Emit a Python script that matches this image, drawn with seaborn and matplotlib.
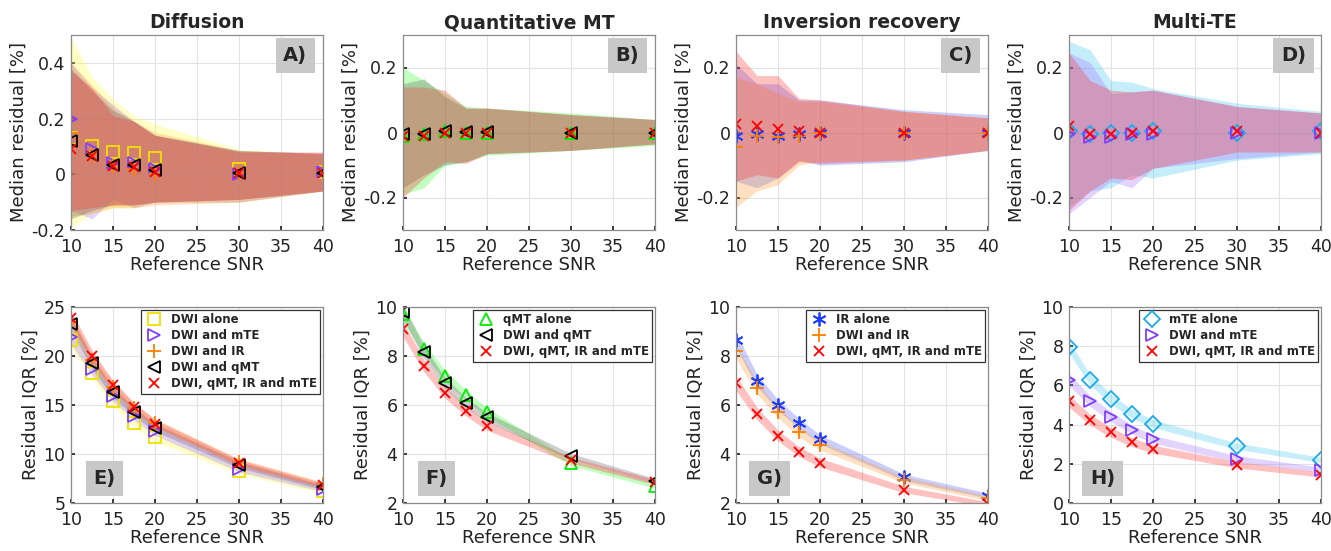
import numpy as np
import pandas as pd
import matplotlib
matplotlib.use("Agg")
import matplotlib.pyplot as plt
import seaborn as sns

# ---------------- data ----------------
SNR = [10, 12.5, 15, 17.5, 20, 30, 40]

# Panel A (Diffusion) median residual + band
A_DWI_MED = [0.13, 0.10, 0.08, 0.075, 0.06, 0.02, 0.01]
A_DWI_LO = [-0.19, -0.14, -0.12, -0.12, -0.10, -0.10, -0.06]
A_DWI_HI = [0.49, 0.35, 0.27, 0.21, 0.18, 0.09, 0.07]
A_MTE_MED = [0.20, 0.09, 0.04, 0.04, 0.02, 0.0, 0.01]
A_MTE_LO = [-0.13, -0.16, -0.09, -0.12, -0.10, -0.10, -0.06]
A_MTE_HI = [0.40, 0.31, 0.25, 0.19, 0.14, 0.085, 0.075]
A_IR_MED = [0.15, 0.07, 0.03, 0.02, 0.0, 0.005, 0.01]
A_IR_LO = [-0.15, -0.14, -0.12, -0.12, -0.11, -0.10, -0.06]
A_IR_HI = [0.40, 0.32, 0.24, 0.19, 0.15, 0.085, 0.075]
A_QMT_MED = [0.12, 0.07, 0.035, 0.035, 0.015, 0.005, 0.005]
A_QMT_LO = [-0.16, -0.13, -0.11, -0.11, -0.10, -0.09, -0.06]
A_QMT_HI = [0.38, 0.30, 0.23, 0.19, 0.14, 0.085, 0.075]
A_ALL_MED = [0.09, 0.065, 0.03, 0.025, 0.01, 0.005, 0.005]
A_ALL_LO = [-0.13, -0.12, -0.11, -0.11, -0.10, -0.09, -0.06]
A_ALL_HI = [0.37, 0.31, 0.21, 0.19, 0.14, 0.08, 0.08]

# Panel B (Quantitative MT)
B_QMT_MED = [-0.01, -0.005, 0.005, 0.0, 0.0, 0.0, 0.0]
B_QMT_LO = [-0.19, -0.17, -0.10, -0.09, -0.07, -0.055, -0.04]
B_QMT_HI = [0.20, 0.16, 0.12, 0.08, 0.075, 0.06, 0.04]
B_DQ_MED = [-0.005, -0.005, 0.005, 0.002, 0.002, 0.0, 0.0]
B_DQ_LO = [-0.17, -0.13, -0.10, -0.09, -0.065, -0.055, -0.035]
B_DQ_HI = [0.15, 0.165, 0.11, 0.075, 0.075, 0.055, 0.04]
B_ALL_MED = [-0.01, -0.01, 0.0, 0.0, 0.0, 0.0, 0.0]
B_ALL_LO = [-0.20, -0.14, -0.09, -0.095, -0.065, -0.055, -0.035]
B_ALL_HI = [0.14, 0.14, 0.13, 0.075, 0.075, 0.055, 0.04]

# Panel C (Inversion recovery)
C_IR_MED = [-0.01, -0.005, -0.01, -0.005, 0.0, -0.002, -0.002]
C_IR_LO = [-0.15, -0.17, -0.14, -0.085, -0.10, -0.09, -0.055]
C_IR_HI = [0.21, 0.15, 0.15, 0.10, 0.10, 0.07, 0.055]
C_DIR_MED = [-0.045, -0.01, -0.015, -0.01, 0.0, 0.0, 0.0]
C_DIR_LO = [-0.23, -0.18, -0.16, -0.10, -0.09, -0.085, -0.055]
C_DIR_HI = [0.17, 0.15, 0.12, 0.095, 0.095, 0.065, 0.045]
C_ALL_MED = [0.025, 0.02, 0.01, 0.005, 0.0, 0.0, 0.0]
C_ALL_LO = [-0.15, -0.13, -0.14, -0.09, -0.095, -0.085, -0.055]
C_ALL_HI = [0.25, 0.175, 0.175, 0.105, 0.10, 0.065, 0.045]

# Panel D (Multi-TE)
D_MTE_MED = [0.005, -0.005, 0.0, 0.0, 0.005, 0.0, 0.005]
D_MTE_LO = [-0.23, -0.18, -0.17, -0.13, -0.14, -0.085, -0.065]
D_MTE_HI = [0.28, 0.255, 0.16, 0.155, 0.135, 0.09, 0.065]
D_DM_MED = [-0.005, -0.015, -0.015, -0.005, -0.005, 0.0, 0.0]
D_DM_LO = [-0.25, -0.20, -0.15, -0.17, -0.11, -0.08, -0.06]
D_DM_HI = [0.245, 0.215, 0.12, 0.125, 0.13, 0.08, 0.06]
D_ALL_MED = [0.02, -0.005, -0.005, 0.0, 0.005, 0.005, 0.0]
D_ALL_LO = [-0.24, -0.18, -0.14, -0.145, -0.11, -0.06, -0.06]
D_ALL_HI = [0.245, 0.16, 0.13, 0.125, 0.13, 0.08, 0.06]

# Bottom row: residual IQR
E_DWI = [21.6, 18.3, 15.4, 13.2, 11.7, 8.3, 6.2]
E_MTE = [21.9, 18.7, 15.9, 13.9, 12.3, 8.5, 6.4]
E_IR = [23.5, 19.6, 16.8, 14.7, 13.2, 9.2, 6.9]
E_QMT = [23.3, 19.3, 16.3, 14.3, 12.7, 8.9, 6.6]
E_ALL = [23.9, 20.0, 17.0, 14.8, 13.1, 9.1, 6.8]
E_HW = [0.7, 0.6, 0.5, 0.45, 0.4, 0.32, 0.25]

F_QMT = [9.7, 8.3, 7.2, 6.4, 5.7, 3.65, 2.7]
F_DQ = [9.8, 8.15, 6.9, 6.1, 5.5, 3.9, 2.9]
F_ALL = [9.1, 7.6, 6.5, 5.75, 5.15, 3.75, 2.85]
F_HW = [0.3, 0.25, 0.22, 0.2, 0.18, 0.12, 0.1]

G_IR = [8.65, 7.0, 6.0, 5.25, 4.6, 3.05, 2.3]
G_DIR = [8.2, 6.7, 5.7, 4.9, 4.35, 2.95, 2.2]
G_ALL = [6.9, 5.65, 4.75, 4.1, 3.65, 2.55, 1.95]
G_HW = [0.3, 0.25, 0.22, 0.2, 0.18, 0.13, 0.1]

H_MTE = [7.95, 6.3, 5.3, 4.55, 4.05, 2.9, 2.2]
H_DM = [6.3, 5.2, 4.4, 3.75, 3.25, 2.25, 1.7]
H_ALL = [5.2, 4.25, 3.6, 3.1, 2.75, 1.95, 1.45]
H_HW = [0.3, 0.27, 0.25, 0.22, 0.2, 0.16, 0.13]

TITLES = ["Diffusion", "Quantitative MT", "Inversion recovery", "Multi-TE"]
TOP_LABELS = ["A)", "B)", "C)", "D)"]
BOT_LABELS = ["E)", "F)", "G)", "H)"]

# ---------------- styles ----------------
STY = {
    "DWI alone": dict(c="#f0e000", band="#ffff40", m="s", open=True, ms=8),
    "DWI and mTE": dict(c="#7f3fff", band="#a070ff", m=">", open=True, ms=9),
    "DWI and IR": dict(c="#ff7f00", band="#ff9a30", m="+", open=False, ms=10),
    "DWI and qMT": dict(c="#000000", band="#606060", m="<", open=True, ms=9),
    "DWI, qMT, IR and mTE": dict(c="#ff0000", band="#ff3030", m="x", open=False, ms=7),
    "qMT alone": dict(c="#00ee00", band="#30ff30", m="^", open=True, ms=9),
    "IR alone": dict(c="#1f3fff", band="#5060ff", m=(6, 2, 0), open=False, ms=10),
    "mTE alone": dict(c="#1aaaee", band="#40c8f0", m="D", open=True, ms=8),
}

sns.set_theme(style="whitegrid")
plt.rcParams["font.family"] = ["DejaVu Sans"]

fig = plt.figure(figsize=(13.31, 5.51), dpi=100)
W, H = 1331.0, 551.0
lefts = [71, 403, 736, 1069]
axw = 252


def make_ax(left, top, bottom):
    return fig.add_axes([left / W, 1 - bottom / H, axw / W, (bottom - top) / H])


def style_ax(ax, ylim, yticks, ylabel, ytl=None):
    ax.set_xlim(10, 40)
    ax.set_ylim(*ylim)
    ax.set_xticks([10, 15, 20, 25, 30, 35, 40])
    ax.set_yticks(yticks)
    if ytl is not None:
        ax.set_yticklabels(ytl)
    ax.set_facecolor("white")
    ax.grid(True, color="#e3e3e3", lw=0.8)
    for s in ax.spines.values():
        s.set_color("#8a8a8a")
        s.set_linewidth(0.9)
    ax.tick_params(labelsize=12.5, colors="#222222", length=3,
                   direction="in", left=True, bottom=True)
    ax.tick_params(axis="x", pad=6)
    ax.tick_params(axis="y", pad=4)
    ax.set_xlabel("Reference SNR", fontsize=13, color="#222222", labelpad=0)
    ax.set_ylabel(ylabel, fontsize=13, color="#222222", labelpad=3)


def marks(ax, y, name, legend=False):
    st = STY[name]
    kw = dict(marker=st["m"], markersize=st["ms"], linestyle="",
              markeredgewidth=1.3, color=st["c"], markeredgecolor=st["c"])
    kw["markerfacecolor"] = "none" if st["open"] else st["c"]
    df = pd.DataFrame({"snr": SNR, "v": y})
    sns.lineplot(data=df, x="snr", y="v", ax=ax, estimator=None, sort=False,
                 label=name if legend else None, legend=False, **kw)


def band(ax, lo, hi, name, alpha=0.3):
    ax.fill_between(SNR, lo, hi, color=STY[name]["band"], alpha=alpha, lw=0)


def tag(ax, text, x, y):
    ax.text(x, y, text, transform=ax.transAxes, fontsize=14, fontweight="bold",
            ha="center", va="center", zorder=10,
            bbox=dict(boxstyle="square,pad=0.4", fc="#c8c8c8", ec="none"))


# ---------------- top row ----------------
top_data = [
    [("DWI alone", A_DWI_MED, A_DWI_LO, A_DWI_HI),
     ("DWI and mTE", A_MTE_MED, A_MTE_LO, A_MTE_HI),
     ("DWI and IR", A_IR_MED, A_IR_LO, A_IR_HI),
     ("DWI and qMT", A_QMT_MED, A_QMT_LO, A_QMT_HI),
     ("DWI, qMT, IR and mTE", A_ALL_MED, A_ALL_LO, A_ALL_HI)],
    [("qMT alone", B_QMT_MED, B_QMT_LO, B_QMT_HI),
     ("DWI and qMT", B_DQ_MED, B_DQ_LO, B_DQ_HI),
     ("DWI, qMT, IR and mTE", B_ALL_MED, B_ALL_LO, B_ALL_HI)],
    [("IR alone", C_IR_MED, C_IR_LO, C_IR_HI),
     ("DWI and IR", C_DIR_MED, C_DIR_LO, C_DIR_HI),
     ("DWI, qMT, IR and mTE", C_ALL_MED, C_ALL_LO, C_ALL_HI)],
    [("mTE alone", D_MTE_MED, D_MTE_LO, D_MTE_HI),
     ("DWI and mTE", D_DM_MED, D_DM_LO, D_DM_HI),
     ("DWI, qMT, IR and mTE", D_ALL_MED, D_ALL_LO, D_ALL_HI)],
]

for i in range(4):
    ax = make_ax(lefts[i], 35, 230)
    for name, med, lo, hi in top_data[i]:
        band(ax, lo, hi, name, alpha=0.3)
    for name, med, lo, hi in top_data[i]:
        marks(ax, med, name)
    if i == 0:
        style_ax(ax, (-0.2, 0.5), [-0.2, 0, 0.2, 0.4], "Median residual [%]",
                 ["-0.2", "0", "0.2", "0.4"])
    else:
        style_ax(ax, (-0.3, 0.3), [-0.2, 0, 0.2], "Median residual [%]",
                 ["-0.2", "0", "0.2"])
    ax.set_title(TITLES[i], fontsize=13.5, fontweight="bold", pad=5)
    tag(ax, TOP_LABELS[i], 0.89, 0.895)

# ---------------- bottom row ----------------
bot_data = [
    [("DWI alone", E_DWI), ("DWI and mTE", E_MTE), ("DWI and IR", E_IR),
     ("DWI and qMT", E_QMT), ("DWI, qMT, IR and mTE", E_ALL)],
    [("qMT alone", F_QMT), ("DWI and qMT", F_DQ), ("DWI, qMT, IR and mTE", F_ALL)],
    [("IR alone", G_IR), ("DWI and IR", G_DIR), ("DWI, qMT, IR and mTE", G_ALL)],
    [("mTE alone", H_MTE), ("DWI and mTE", H_DM), ("DWI, qMT, IR and mTE", H_ALL)],
]
bot_hw = [E_HW, F_HW, G_HW, H_HW]
bot_lims = [((5, 25), [5, 10, 15, 20, 25]), ((2, 10), [2, 4, 6, 8, 10]),
            ((2, 10), [2, 4, 6, 8, 10]), ((0, 10), [0, 2, 4, 6, 8, 10])]

for i in range(4):
    ax = make_ax(lefts[i], 307, 503)
    hw = np.array(bot_hw[i])
    for name, vals in bot_data[i]:
        v = np.array(vals)
        band(ax, v - hw, v + hw, name, alpha=0.3)
    for name, vals in bot_data[i]:
        marks(ax, vals, name, legend=True)
    style_ax(ax, bot_lims[i][0], bot_lims[i][1], "Residual IQR [%]")
    leg = ax.legend(loc="upper right", prop=dict(weight="bold", size=8.5),
                    frameon=True, fancybox=False, edgecolor="#333333",
                    borderaxespad=0.25, labelspacing=0.25, handletextpad=0.6,
                    borderpad=0.3, handlelength=1.6, framealpha=1)
    leg.get_frame().set_linewidth(0.9)
    tag(ax, BOT_LABELS[i], 0.133, 0.125)

fig.savefig("out.png", dpi=100)
